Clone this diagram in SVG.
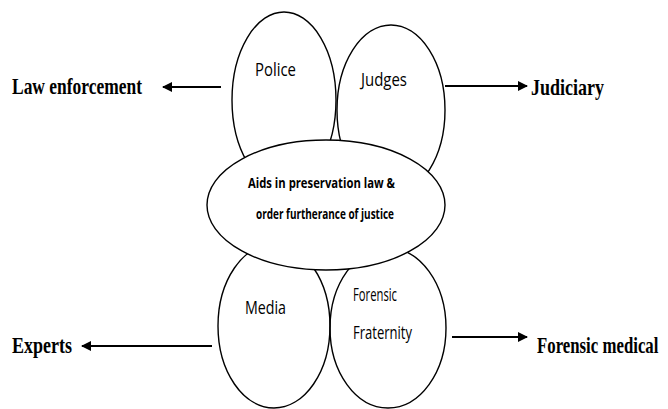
<svg xmlns="http://www.w3.org/2000/svg" width="668" height="409" viewBox="0 0 668 409">
<style>
.e{fill:none;stroke:#000;stroke-width:1.4}
.c{fill:#fff;stroke:#000;stroke-width:1.4}
.lbl{font-family:"Liberation Serif",serif;font-weight:bold;font-size:24px;fill:#000}
.in{font-family:"Open Sans","Noto Sans",sans-serif;font-size:18px;fill:#000}
.inb{font-family:"Open Sans","Noto Sans",sans-serif;font-size:14px;font-weight:bold;fill:#000}
.a{stroke:#000;stroke-width:2;fill:none}
</style>
<defs>
<marker id="ah" viewBox="0 0 10 10" refX="9" refY="5" markerWidth="5" markerHeight="5" orient="auto" markerUnits="strokeWidth">
<path d="M0,0 L10,5 L0,10 z" fill="#000"/>
</marker>
</defs>
<rect width="668" height="409" fill="#fff"/>
<g id="police"><ellipse class="e" cx="284" cy="100" rx="52" ry="88"/><text class="in" x="255" y="76" textLength="41" lengthAdjust="spacingAndGlyphs">Police</text></g>
<g id="judges"><ellipse class="e" cx="391" cy="110" rx="54" ry="85"/><text class="in" x="361" y="86" textLength="46" lengthAdjust="spacingAndGlyphs">Judges</text></g>
<g id="media"><ellipse class="e" cx="274" cy="326" rx="56" ry="82"/><text class="in" x="245" y="314" textLength="41" lengthAdjust="spacingAndGlyphs">Media</text></g>
<g id="forensic-fraternity"><ellipse class="e" cx="388" cy="328" rx="58" ry="80"/><text class="in" x="353" y="301" textLength="44" lengthAdjust="spacingAndGlyphs">Forensic</text><text class="in" x="353" y="339" textLength="59" lengthAdjust="spacingAndGlyphs">Fraternity</text></g>
<g id="center"><ellipse class="c" cx="326" cy="205" rx="119" ry="65"/><text class="inb" x="248" y="188" textLength="147" lengthAdjust="spacingAndGlyphs">Aids in preservation law &amp;</text><text class="inb" x="256" y="219" textLength="138" lengthAdjust="spacingAndGlyphs">order furtherance of justice</text></g>
<g id="law-enforcement"><text class="lbl" x="12" y="94" textLength="130" lengthAdjust="spacingAndGlyphs">Law enforcement</text></g>
<g id="judiciary"><text class="lbl" x="531" y="95" textLength="73" lengthAdjust="spacingAndGlyphs">Judiciary</text></g>
<g id="experts"><text class="lbl" x="12" y="353" textLength="60" lengthAdjust="spacingAndGlyphs">Experts</text></g>
<g id="forensic-medical"><text class="lbl" transform="translate(537,353) scale(0.7,1)" x="0" y="0">Forensic medical</text></g>
<g id="connectors">
<line class="a" x1="221" y1="87" x2="163" y2="87" marker-end="url(#ah)"/>
<line class="a" x1="445" y1="86" x2="527" y2="86" marker-end="url(#ah)"/>
<line class="a" x1="212" y1="346" x2="82" y2="346" marker-end="url(#ah)"/>
<line class="a" x1="452" y1="337" x2="527" y2="337" marker-end="url(#ah)"/>
</g>
</svg>
